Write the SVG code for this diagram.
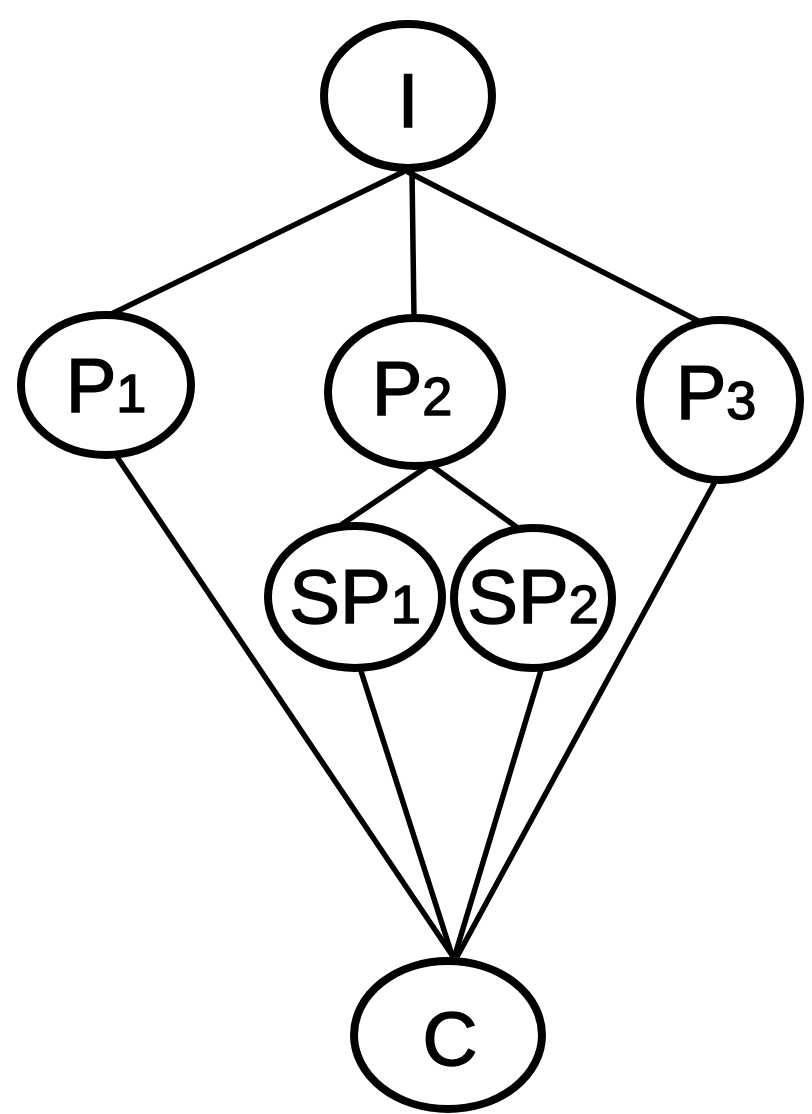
<svg xmlns="http://www.w3.org/2000/svg" width="812" height="1114" viewBox="0 0 812 1114">
<style>
.node{fill:#fff;stroke:#000;stroke-width:8}
.edge{fill:none;stroke:#000;stroke-width:5.5;stroke-linecap:round}
.lbl{font-family:"Liberation Sans","DejaVu Sans",sans-serif;font-size:76px;fill:#000;stroke:#000;stroke-width:1.5;text-anchor:middle;dominant-baseline:central}
.sub{font-size:54px}
</style>
<rect width="812" height="1114" fill="#fff"/>
<g id="connectors">
<line class="edge" x1="403" y1="172" x2="95" y2="322"/>
<line class="edge" x1="412" y1="172" x2="414" y2="318"/>
<line class="edge" x1="408" y1="172" x2="708" y2="326"/>
<line class="edge" x1="428" y1="466" x2="338" y2="527"/>
<line class="edge" x1="432" y1="466" x2="522" y2="531"/>
<line class="edge" x1="115" y1="454" x2="452" y2="955"/>
<line class="edge" x1="360" y1="668" x2="452" y2="955"/>
<line class="edge" x1="542" y1="667" x2="455" y2="955"/>
<line class="edge" x1="716" y1="480" x2="458" y2="955"/>
</g>
<g id="node-I"><ellipse class="node" cx="408" cy="96" rx="84" ry="72"/><text class="lbl" x="408" y="100">I</text></g>
<g id="node-P1"><ellipse class="node" cx="106" cy="385" rx="85" ry="70"/><text class="lbl" x="106" y="385">P<tspan class="sub" dy="8">1</tspan></text></g>
<g id="node-P2"><ellipse class="node" cx="415" cy="392" rx="87" ry="74"/><text class="lbl" x="412" y="388">P<tspan class="sub" dy="8">2</tspan></text></g>
<g id="node-P3"><ellipse class="node" cx="720" cy="400" rx="80" ry="80"/><text class="lbl" x="716" y="392">P<tspan class="sub" dy="8">3</tspan></text></g>
<g id="node-SP1"><ellipse class="node" cx="355" cy="597" rx="87" ry="71"/><text class="lbl" x="355" y="596">SP<tspan class="sub" dy="8">1</tspan></text></g>
<g id="node-SP2"><ellipse class="node" cx="533" cy="598" rx="79" ry="70"/><text class="lbl" x="533" y="596">SP<tspan class="sub" dy="8">2</tspan></text></g>
<g id="node-C"><ellipse class="node" cx="448" cy="1035" rx="94" ry="74"/><text class="lbl" x="450" y="1038">C</text></g>
</svg>
